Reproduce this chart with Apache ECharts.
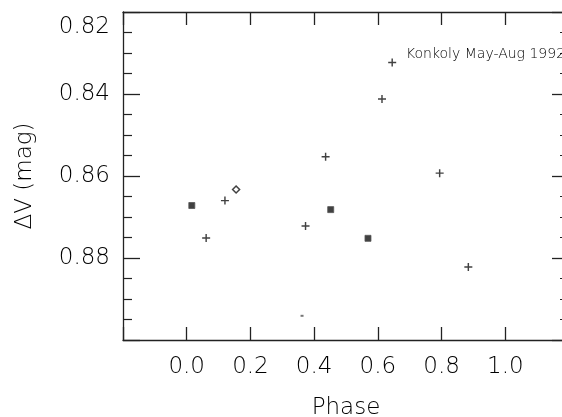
<!DOCTYPE html>
<html>
<head>
<meta charset="utf-8">
<script src="https://cdn.jsdelivr.net/npm/echarts@6/dist/echarts.min.js"></script>
<style>html,body{margin:0;padding:0;background:#fff;}#c{width:562px;height:417px;}</style>
</head>
<body>
<div id="c"></div>
<script>
// Data (Phase, ΔV mag)
const plusPoints = [[0.061, 0.8751], [0.120, 0.8660], [0.373, 0.8722], [0.436, 0.8553], [0.613, 0.8412], [0.645, 0.8323], [0.794, 0.8593], [0.884, 0.8822]];
const starPoints = [[0.016, 0.8672], [0.452, 0.8682], [0.569, 0.8752]];
const diamondPoints = [[0.155, 0.8633]];
const dotPoints = [[0.362, 0.8941]];
const xTickLabels = ['0.0', '0.2', '0.4', '0.6', '0.8', '1.0'];
const yTickLabels = ['0.82', '0.84', '0.86', '0.88'];
const xName = 'Phase';
const yName = 'ΔV (mag)';
const annotation = 'Konkoly May-Aug 1992';

const FONT = 'DejaVu Sans';
const TXT = '#000';
const chart = echarts.init(document.getElementById('c'), null, {renderer: 'canvas'});
const plusPath = 'path://M-1,-0.18L-0.18,-0.18L-0.18,-1L0.18,-1L0.18,-0.18L1,-0.18L1,0.18L0.18,0.18L0.18,1L-0.18,1L-0.18,0.18L-1,0.18Z';

const axisLine = {show: true, onZero: false, lineStyle: {color: '#222', width: 1.3}};
function xFmt(v) { const s = (Math.round(v * 10) / 10).toFixed(1); return xTickLabels.indexOf(s) >= 0 ? s : ''; }
function yFmt(v) {
  const s = (Math.round(v * 100) / 100).toFixed(2);
  if (yTickLabels.indexOf(s) < 0) return '';
  return s === yTickLabels[0] ? '{first|' + s + '}' : s;
}

chart.setOption({
  animation: false,
  backgroundColor: '#fff',
  title: {
    text: annotation, left: 401, top: 42,
    textStyle: {fontFamily: FONT, fontSize: 14, fontWeight: 200, color: TXT}
  },
  grid: {left: 123, right: -7, top: 12, bottom: 77, containLabel: false, outerBoundsMode: 'none'},
  xAxis: [{
    type: 'value', min: -0.2, max: 1.2, interval: 0.2, position: 'bottom',
    name: xName, nameLocation: 'middle', nameGap: 57,
    nameTextStyle: {fontFamily: FONT, fontSize: 23, fontWeight: 200, color: TXT},
    axisLine: axisLine,
    axisTick: {show: true, inside: true, length: 13, lineStyle: {color: '#222', width: 1.3}},
    axisLabel: {formatter: xFmt, fontFamily: FONT, fontSize: 23, fontWeight: 200, color: TXT, margin: 16},
    splitLine: {show: false}
  }, {
    type: 'value', min: -0.2, max: 1.2, interval: 0.2, position: 'top',
    axisLine: axisLine,
    axisTick: {show: true, inside: true, length: 13, lineStyle: {color: '#222', width: 1.3}},
    axisLabel: {show: false}, splitLine: {show: false}
  }],
  yAxis: [{
    type: 'value', inverse: true, min: 0.82, max: 0.90, interval: 0.02, position: 'left',
    name: yName, nameLocation: 'middle', nameGap: 86, nameRotate: 90,
    nameTextStyle: {fontFamily: FONT, fontSize: 23, fontWeight: 200, color: TXT},
    axisLine: axisLine,
    axisTick: {show: true, inside: true, length: 17, lineStyle: {color: '#222', width: 1.3}},
    minorTick: {show: true, splitNumber: 4, length: 9, lineStyle: {color: '#222', width: 1.2}},
    axisLabel: {formatter: yFmt, fontFamily: FONT, fontSize: 23, fontWeight: 200, color: TXT, margin: 13,
      rich: {first: {fontFamily: FONT, fontSize: 23, fontWeight: 200, color: TXT, padding: [30, 0, 0, 0]}}},
    splitLine: {show: false}, minorSplitLine: {show: false}
  }, {
    type: 'value', inverse: true, min: 0.82, max: 0.90, interval: 0.02, position: 'right',
    axisLine: axisLine,
    axisTick: {show: true, inside: true, length: 17, lineStyle: {color: '#222', width: 1.3}},
    minorTick: {show: true, splitNumber: 4, length: 9, lineStyle: {color: '#222', width: 1.2}},
    axisLabel: {show: false}, splitLine: {show: false}, minorSplitLine: {show: false}
  }],
  series: [
    {type: 'scatter', data: plusPoints, symbol: plusPath, symbolSize: 8, itemStyle: {color: '#111'}},
    {type: 'scatter', data: starPoints, symbol: 'rect', symbolSize: 6, itemStyle: {color: '#111', borderColor: '#555', borderWidth: 1}},
    {type: 'scatter', data: diamondPoints, symbol: 'diamond', symbolSize: 7, itemStyle: {color: '#fff', borderColor: '#111', borderWidth: 1.5}},
    {type: 'scatter', data: dotPoints, symbol: 'rect', symbolSize: [3, 2], itemStyle: {color: '#555'}}
  ]
});
</script>
</body>
</html>
